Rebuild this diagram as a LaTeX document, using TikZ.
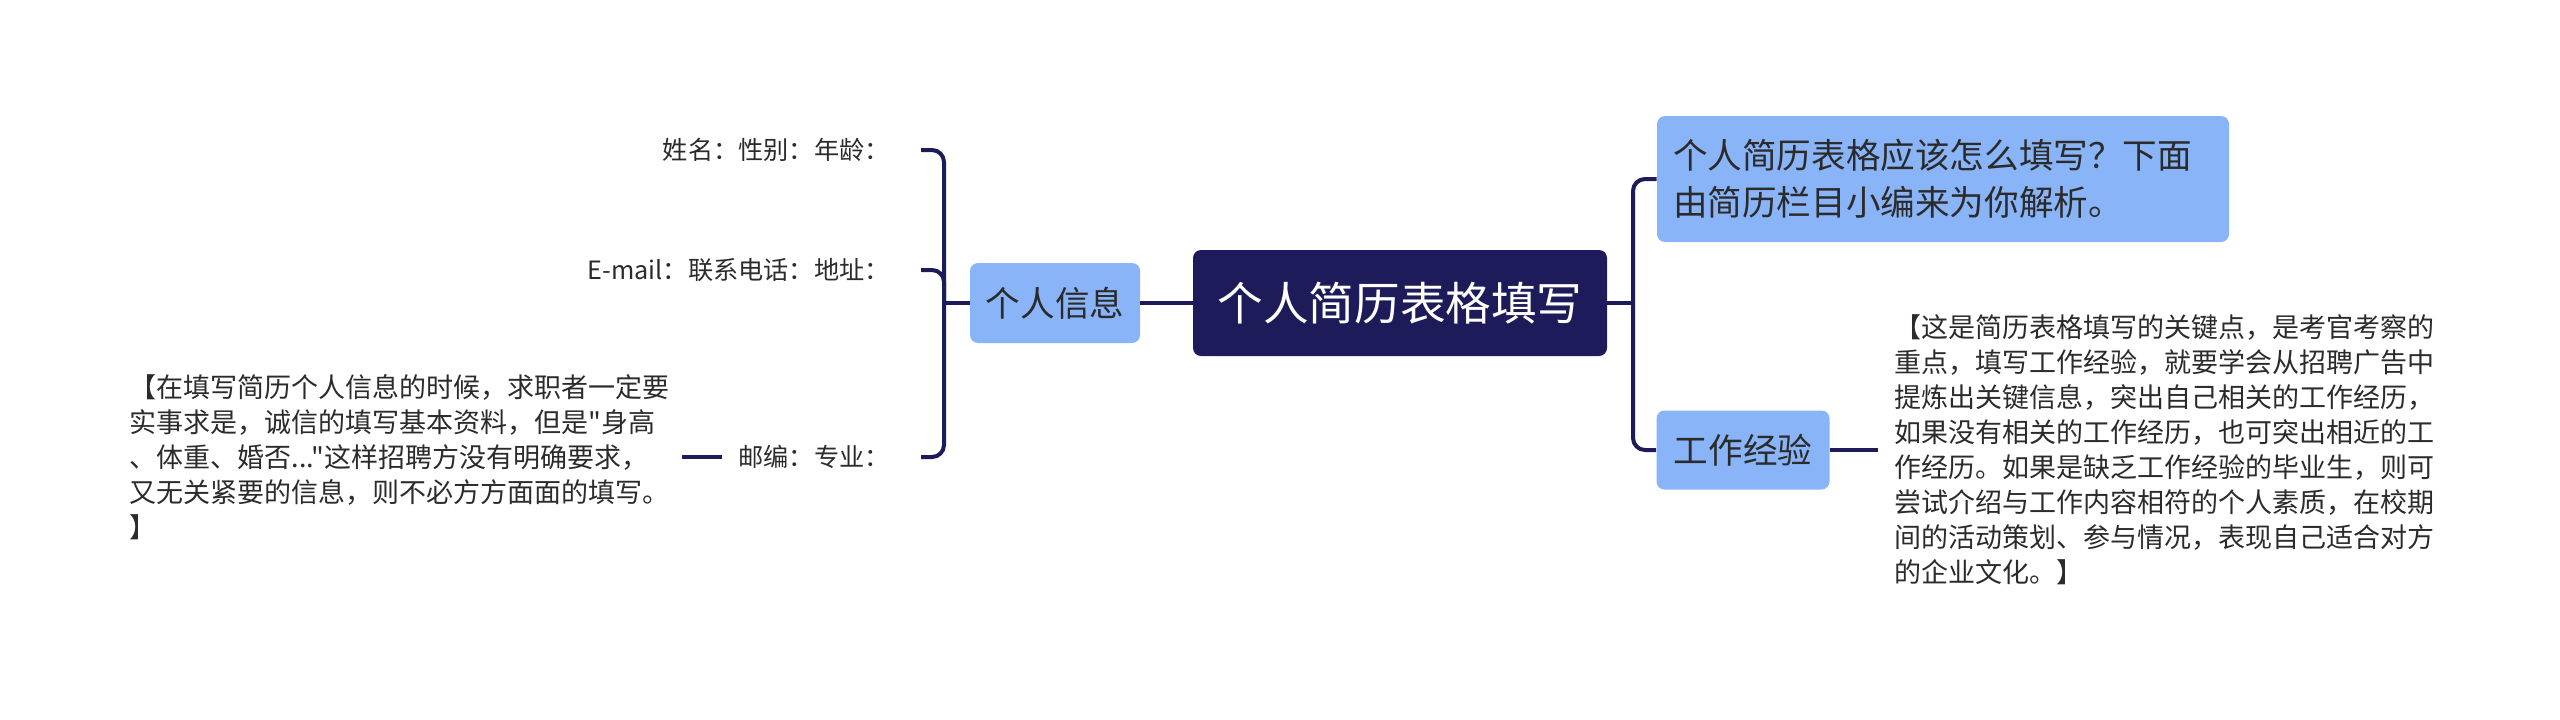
\documentclass[tikz,border=0pt]{standalone}
\usepackage{fontspec}
\setmainfont{Noto Sans CJK SC}[Ligatures=TeXOff]
\definecolor{navy}{HTML}{1D1B5A}
\definecolor{sky}{HTML}{8AB4F8}
\definecolor{ink}{HTML}{2B2B2B}

\begin{document}
\begin{tikzpicture}[x=0.5pt,y=-0.5pt,
    link/.style={draw=navy,line width=2pt,rounded corners=6pt},
    topic/.style={fill=sky,rounded corners=4pt,text=ink,font=\fontsize{17.3}{23.5}\selectfont,inner sep=0pt},
    leaf/.style={text=ink,font=\fontsize{12.6}{15}\selectfont,inner xsep=8pt},
    note/.style={text=ink,font=\fontsize{13.5}{17.5}\selectfont,align=left}]
  \useasboundingbox (0,0) rectangle (2560,719);
  \node[fill=navy,rounded corners=4pt,text=white,font=\fontsize{22.8}{27}\selectfont,minimum width=207pt,minimum height=53pt] (root) at (1400,303) {个人简历表格填写};
  \node[topic,minimum width=85pt,minimum height=40pt] (info) at (1055,303) {个人信息};
  \node[topic,minimum width=286pt,minimum height=63pt,text width=270pt,align=left] (intro) at (1943,179) {个人简历表格应该怎么填写？下面\\由简历栏目小编来为你解析。};
  \node[topic,minimum width=86.5pt,minimum height=39.5pt] (work) at (1743,450) {工作经验};
  \node[leaf,anchor=east] (name) at (906,150) {姓名：性别：年龄：};
  \node[leaf,anchor=east] (contact) at (906,270) {E-mail：联系电话：地址：};
  \node[leaf,anchor=east] (post) at (906,457) {邮编：专业：};
  \node[note,anchor=east,inner xsep=6pt] (tipL) at (682,457) {【在填写简历个人信息的时候，求职者一定要\\实事求是，诚信的填写基本资料，但是"身高\\、体重、婚否..."这样招聘方没有明确要求，\\又无关紧要的信息，则不必方方面面的填写。\\】};
  \node[note,anchor=west,inner xsep=8pt] (tipR) at (1878,450) {【这是简历表格填写的关键点，是考官考察的\\重点，填写工作经验，就要学会从招聘广告中\\提炼出关键信息，突出自己相关的工作经历，\\如果没有相关的工作经历，也可突出相近的工\\作经历。如果是缺乏工作经验的毕业生，则可\\尝试介绍与工作内容相符的个人素质，在校期\\间的活动策划、参与情况，表现自己适合对方\\的企业文化。】};
  \coordinate (jl) at (944,303);
  \coordinate (jr) at (1633,303);
  \draw[link] (root.west) -- (info.east);
  \draw[link] (info.west) -- (jl);
  \draw[link] (root.east) -- (jr);
  \foreach \n in {name,contact,post} \draw[link] (jl) |- ([xshift=7.5pt]\n.east);
  \foreach \n in {intro,work} \draw[link] (jr) |- (\n.west);
  \draw[link] (post.west) -- (tipL.east);
  \draw[link] (work.east) -- (tipR.west);
\end{tikzpicture}
\end{document}
